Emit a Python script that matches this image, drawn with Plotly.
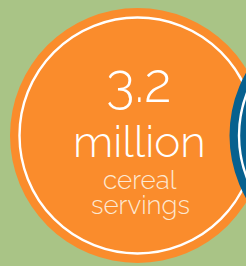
import plotly.graph_objects as go

# Data
stat_values = ["3.2"]
stat_units = ["million"]
stat_labels = ["cereal", "servings"]

BG = "#a9c486"
ORANGE = "#fa8c2c"
BLUE = "#07618f"
WHITE = "#ffffff"
CREAM = "#fde8d2"

W, H = 246, 266

fig = go.Figure()

def disc(cx, cy, r, fill):
    return dict(type="circle", xref="x", yref="y", x0=cx - r, x1=cx + r,
                y0=cy - r, y1=cy + r, fillcolor=fill, line=dict(width=0), layer="below")

def ring(cx, cy, r, w):
    return dict(type="circle", xref="x", yref="y", x0=cx - r, x1=cx + r,
                y0=cy - r, y1=cy + r, fillcolor="rgba(0,0,0,0)",
                line=dict(color=WHITE, width=w), layer="below")

ocx, ocy, R = 137.5, 135.5, 127.5
bcx = 357
shapes = [
    disc(ocx, ocy, R, ORANGE),
    ring(ocx, ocy, R - 9.5, 2.4),
    disc(bcx, ocy, R, BLUE),
    ring(bcx, ocy, R - 9.5, 2.4),
]

fig.add_trace(go.Scatter(x=[0], y=[0], mode="markers", marker=dict(opacity=0), hoverinfo="skip", showlegend=False))

font_family = "Raleway, Lato, 'Open Sans', sans-serif"
annotations = [
    dict(x=139, y=117, text=stat_values[0], showarrow=False, xref="x", yref="y",
         yanchor="bottom", font=dict(family=font_family, size=54, color=WHITE, weight=300)),
    dict(x=139, y=169, text=stat_units[0], showarrow=False, xref="x", yref="y",
         yanchor="bottom", font=dict(family=font_family, size=44, color=WHITE, weight=300)),
    dict(x=140, y=197, text=stat_labels[0], showarrow=False, xref="x", yref="y",
         yanchor="bottom", font=dict(family=font_family, size=26, color=CREAM, weight=300)),
    dict(x=140, y=222, text=stat_labels[1], showarrow=False, xref="x", yref="y",
         yanchor="bottom", font=dict(family=font_family, size=26, color=CREAM, weight=300)),
]

fig.update_layout(
    width=W, height=H, margin=dict(l=0, r=0, t=0, b=0),
    paper_bgcolor=BG, plot_bgcolor=BG,
    xaxis=dict(range=[0, W], visible=False, fixedrange=True),
    yaxis=dict(range=[H, 0], visible=False, fixedrange=True),
    shapes=shapes, annotations=annotations, showlegend=False,
)

fig.write_html("out.html", config={"displayModeBar": False},
               post_script="document.body.style.margin='0';document.body.style.padding='0';document.body.style.overflow='hidden';")
